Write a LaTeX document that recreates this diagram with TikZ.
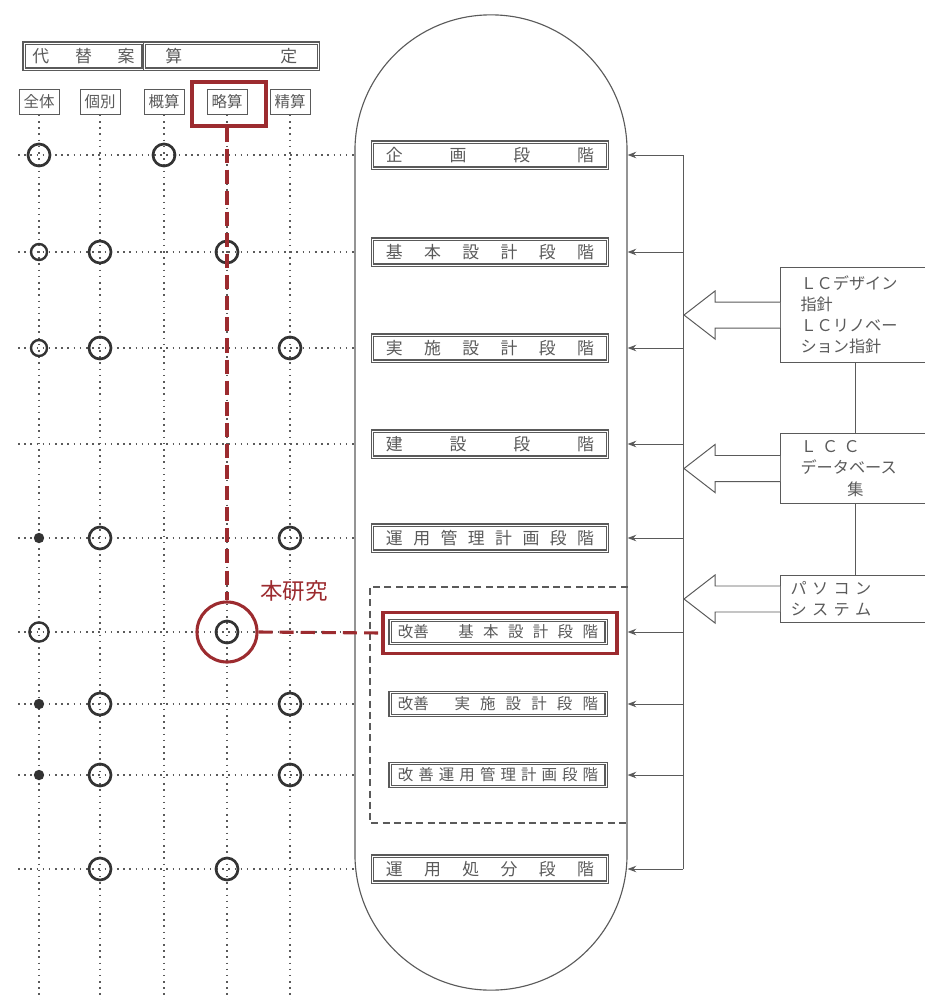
\documentclass[tikz,border=0pt]{standalone}
\usepackage{fontspec}
\setmainfont{Noto Sans CJK JP}
\usetikzlibrary{arrows.meta, calc}

\definecolor{ink}{HTML}{5A5A5A}
\definecolor{markgray}{HTML}{333333}
\definecolor{hilite}{HTML}{9C2B2F}

\begin{document}
\begin{tikzpicture}[x=0.025cm, y=-0.025cm, >=Stealth,
  frame/.style={draw=ink, double=white, double distance=0.6pt, line width=0.9pt, inner sep=0pt, text=ink},
  header/.style={frame, minimum height=0.65cm, font=\fontsize{12}{12}\selectfont},
  stage/.style={frame, minimum width=5.875cm, minimum height=0.65cm, font=\fontsize{12}{12}\selectfont},
  kaizen/.style={frame, minimum width=5.4cm, minimum height=0.58cm, font=\fontsize{11}{11}\selectfont},
  colhead/.style={draw=ink, line width=0.7pt, text=ink, minimum width=1cm, minimum height=0.62cm, inner sep=1pt, font=\fontsize{11}{11}\selectfont},
  tool/.style={draw=ink, line width=0.7pt, text=ink, anchor=north west, text width=2.75cm, inner xsep=0.5cm, inner ysep=3pt, align=left, font=\fontsize{11.5}{15}\selectfont},
  gridline/.style={ink, line width=1.2pt, dash pattern=on 1.1pt off 3.3pt},
  bigmark/.style={circle, draw=markgray, line width=1.9pt, minimum size=0.55cm, inner sep=0pt},
  smallmark/.style={circle, draw=markgray, line width=1.7pt, minimum size=0.4cm, inner sep=0pt},
  dotmark/.style={circle, fill=markgray, minimum size=0.26cm, inner sep=0pt},
  feed/.style={->, ink, line width=0.7pt},
  hollow/.style={draw=ink, line width=0.7pt, fill=white},
  study/.style={hilite, line width=2.2pt, dash pattern=on 10pt off 5pt}]

  \useasboundingbox (0,0) rectangle (925,1000);

  % process capsule
  \node[draw=ink, line width=0.8pt, minimum width=6.8cm, minimum height=24.375cm, rounded corners=3.39cm] (cap) at (491,502.5) {};

  % stages
  \node[stage] (s1) at (490,155) {\makebox[5.2cm][s]{企 画 段 階}};
  \node[stage] (s2) at (490,252) {\makebox[5.2cm][s]{基 本 設 計 段 階}};
  \node[stage] (s3) at (490,348) {\makebox[5.2cm][s]{実 施 設 計 段 階}};
  \node[stage] (s4) at (490,444) {\makebox[5.2cm][s]{建 設 段 階}};
  \node[stage] (s5) at (490,538) {\makebox[5.2cm][s]{運 用 管 理 計 画 段 階}};
  \node[kaizen] (s6) at (498,632) {\makebox[5cm][s]{改善\hspace{1.3em} 基 本 設 計 段 階}};
  \node[kaizen] (s7) at (498,704) {\makebox[5cm][s]{改善\hspace{1em} 実 施 設 計 段 階}};
  \node[kaizen] (s8) at (498,775) {\makebox[5cm][s]{改 善 運 用 管 理 計 画 段 階}};
  \node[stage] (s9) at (490,869) {\makebox[5.2cm][s]{運 用 処 分 段 階}};

  % improvement group
  \coordinate (grptop) at (370,587);
  \coordinate (grpbot) at (370,823);
  \draw[ink, line width=0.8pt, dash pattern=on 5pt off 3pt] (grptop -| cap.east) -- (grptop) -- (grpbot) -- (grpbot -| cap.east);

  % estimate table heads
  \node[header, minimum width=2.975cm] (alt) at (83.5,56) {\makebox[2.55cm][s]{代 替 案}};
  \node[header, minimum width=4.35cm, anchor=west] (calc) at (alt.east) {\makebox[3.3cm][s]{算 定}};
  \node[colhead] (zentai) at (39,102) {全体};
  \node[colhead] (kobetsu) at (100,102) {個別};
  \node[colhead] (gaisan) at (164,102) {概算};
  \node[colhead] (ryakusan) at (227,102) {略算};
  \node[colhead] (seisan) at (290,102) {精算};

  % dotted grid
  \coordinate (gl) at (18,0);
  \coordinate (floor) at (0,1000);
  \foreach \s in {s1,s2,s3,s4,s5,s6,s7,s8,s9}
    \draw[gridline] (\s -| gl) -- (\s -| cap.west);
  \foreach \c in {zentai,kobetsu,gaisan,ryakusan,seisan}
    \draw[gridline] (\c.south) -- (\c |- floor);

  % marks
  \node[bigmark] (m1a) at (zentai |- s1) {};
  \node[bigmark] (m1c) at (gaisan |- s1) {};
  \node[smallmark] (m2a) at (zentai |- s2) {};
  \node[bigmark] (m2b) at (kobetsu |- s2) {};
  \node[bigmark] (m2d) at (ryakusan |- s2) {};
  \node[smallmark] (m3a) at (zentai |- s3) {};
  \node[bigmark] (m3b) at (kobetsu |- s3) {};
  \node[bigmark] (m3e) at (seisan |- s3) {};
  \node[dotmark] (m5a) at (zentai |- s5) {};
  \node[bigmark] (m5b) at (kobetsu |- s5) {};
  \node[bigmark] (m5e) at (seisan |- s5) {};
  \node[smallmark, minimum size=0.48cm] (m6a) at (zentai |- s6) {};
  \node[bigmark] (m6d) at (ryakusan |- s6) {};
  \node[dotmark] (m7a) at (zentai |- s7) {};
  \node[bigmark] (m7b) at (kobetsu |- s7) {};
  \node[bigmark] (m7e) at (seisan |- s7) {};
  \node[dotmark] (m8a) at (zentai |- s8) {};
  \node[bigmark] (m8b) at (kobetsu |- s8) {};
  \node[bigmark] (m8e) at (seisan |- s8) {};
  \node[bigmark] (m9b) at (kobetsu |- s9) {};
  \node[bigmark] (m9d) at (ryakusan |- s9) {};

  % supporting tools
  \node[tool, minimum height=2.375cm] (guide) at (780,267) {ＬＣデザイン\\指針\\ＬＣリノベー\\ション指針};
  \node[tool, minimum height=1.75cm] (lccdb) at (780,433) {\makebox[2.35cm][s]{Ｌ Ｃ Ｃ}\\データベース\\\makebox[2.75cm]{集}};
  \node[tool, minimum height=1.175cm, text width=3.2cm, inner xsep=0.25cm] (pcsys) at (780,575) {\makebox[3.15cm][s]{パ ソ コ ン}\\\makebox[3.15cm][s]{シ ス テ ム}};
  \draw[ink, line width=0.7pt] (guide.south) -- (guide.south |- lccdb.north);
  \draw[ink, line width=0.7pt] (lccdb.south) -- (lccdb.south |- pcsys.north);
  \foreach \b in {guide,lccdb,pcsys}
    \draw[hollow] ($(\b.west)+(0,-13)$) -- ++(-65,0) -- ++(0,-11) -- ++(-31,24) -- ++(31,24) -- ++(0,-11) -- ($(\b.west)+(0,13)$);

  % feed bus
  \coordinate (bus) at (683,0);
  \draw[ink, line width=0.7pt] (s1 -| bus) -- (s9 -| bus);
  \foreach \s in {s1,s2,s3,s4,s5,s6,s7,s8,s9}
    \draw[feed] (\s -| bus) -- (\s -| cap.east);

  % this study
  \node[draw=hilite, line width=2.2pt, minimum width=1.85cm, minimum height=1.1cm] (pick) at (229,104) {};
  \node[circle, draw=hilite, line width=2.2pt, minimum size=1.5cm] (focus) at (ryakusan |- s6) {};
  \node[draw=hilite, line width=2.2pt, minimum width=5.85cm, minimum height=1.02cm] (target) at (500,633) {};
  \node[text=hilite, font=\fontsize{16}{16}\selectfont] (label) at (294,591) {本研究};
  \draw[study] (focus |- pick.south) -- (focus.north);
  \draw[study] (focus.east) -- (target.west);
\end{tikzpicture}
\end{document}
